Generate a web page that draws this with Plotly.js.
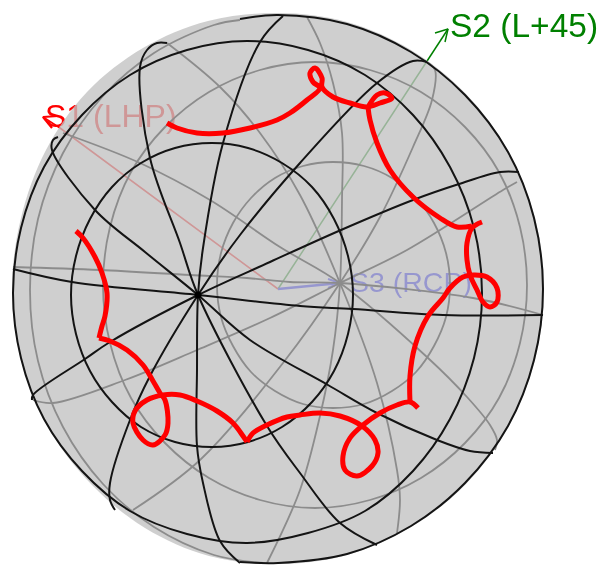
<!DOCTYPE html>
<html>
<head>
<meta charset="utf-8">
<script src="https://cdn.plot.ly/plotly-3.0.1.min.js"></script>
<style>html,body{margin:0;padding:0;background:#fff}#p{width:600px;height:566px;filter:blur(0.55px)}</style>
</head>
<body>
<div id="p"></div>
<script>
// Curves, as [x, y] in picture units
const sphereEdge = [[278,13],[347,22],[411,50],[466,94],[508,151],[535,218],[544,289],[535,360],[508,427],[466,484],[411,527],[347,555],[278,564],[209,556],[145,528],[91,484],[48,427],[21,360],[12,289],[21,218],[46,150],[87,92],[143,48],[208,21],[278,13]];

const axisS1 = [[278,289],[60,128],[43,117]];
const headS1 = [[58,116],[43,117],[52,128]];
const axisS2 = [[278,289],[448,29]];
const headS2 = [[435,33],[448,29],[445,42]];
const axisS3 = [[278,289],[340,283]];
const headS3 = [[328,279],[340,283],[328,288]];
const labels = ['S1 (LHP)','S2 (L+45)','S3 (RCP)'];
const labelAnchors = [[45,135],[450,45],[350,299]];
const labelSizes = [32,33.5,28.5];

const grayMid = [[527,285],[520,343],[499,398],[465,443],[421,478],[370,500],[315,508],[260,500],[209,478],[165,443],[131,398],[110,343],[103,285],[110,227],[131,172],[165,127],[209,92],[260,70],[315,62],[370,70],[421,92],[465,127],[499,172],[520,227],[527,285]];
const grayInner = [[450,285],[446,317],[434,346],[416,372],[392,391],[364,404],[333,408],[303,404],[275,391],[251,372],[233,346],[221,317],[217,285],[221,253],[233,223],[251,198],[275,178],[303,166],[333,162],[364,166],[392,178],[416,198],[434,223],[446,253],[450,285]];
const grayRim = [[263,563],[214,555],[154,527],[103,484],[63,427],[38,361],[30,290],[38,219],[63,153],[103,96],[154,53],[214,25],[240,20]];
const gray1 = [[167,43],[220,87],[260,133],[300,195],[340,283],[377,383],[397,470],[400,500],[397,533]];
const gray2 = [[63,133],[140,163],[210,200],[280,247],[340,283],[428,358],[467,397],[490,425],[497,440],[495,450]];
const gray3 = [[13,267],[100,270],[190,275],[247,278],[290,282],[340,283],[473,298],[543,315]];
const gray4 = [[33,400],[53,403],[125,380],[197,350],[270,318],[340,283],[407,250],[503,190],[517,182]];
const gray5 = [[307,17],[320,43],[333,83],[342,133],[342,200],[340,283],[333,350],[320,416],[300,490],[267,563]];
const gray6 = [[427,62],[435,70],[432,100],[413,147],[380,217],[340,283],[283,363],[200,460],[133,510]];
const grayCurves = [grayMid, grayInner, grayRim, gray1, gray2, gray3, gray4, gray5, gray6];

const blackEdge = [[240,19],[278,15],[347,24],[411,52],[465,95],[508,152],[534,218],[543,289],[534,360],[508,426],[465,483],[411,526],[347,554],[278,563],[240,562]];
const blackOuter = [[482,293],[474,358],[450,419],[413,471],[365,511],[308,533],[247,543],[187,534],[130,511],[82,471],[44,419],[21,358],[13,293],[21,228],[44,167],[82,115],[130,75],[187,50],[247,41],[308,50],[365,75],[413,115],[450,167],[474,228],[482,293]];
const blackInner = [[353,295],[348,334],[334,371],[312,402],[282,427],[248,442],[212,447],[175,442],[141,427],[112,402],[90,371],[76,334],[71,295],[76,256],[90,219],[112,187],[141,163],[175,148],[212,143],[248,148],[282,163],[312,187],[334,219],[348,256],[353,295]];
const spokeA = [[13,269],[72,282],[198,295],[300,306],[353,309],[443,315],[543,315]];
const spokeB = [[519,172],[500,172],[459,184],[413,200],[341,230],[270,262],[198,295],[110,342],[85,359],[33,395],[32,400]];
const spokeC = [[427,62],[413,61],[377,83],[300,163],[240,235],[198,295],[150,376],[130,420],[110,483],[110,500],[115,510]];
const spokeD = [[283,16],[260,42],[223,143],[203,248],[198,295],[197,370],[197,446],[203,483],[220,541],[240,563]];
const spokeE = [[167,43],[157,43],[147,50],[140,67],[150,158],[180,243],[198,295],[267,426],[300,473],[340,523],[377,545]];
const spokeF = [[58,137],[53,140],[52,150],[95,210],[145,252],[198,295],[250,340],[328,385],[377,413],[437,440],[470,451],[493,453]];
const blackCurves = [blackEdge, blackOuter, blackInner, spokeA, spokeB, spokeC, spokeD, spokeE, spokeF];
const pole = [[198,295]];

const red1 = [[76,231],[83,238],[95,257],[102,273],[107,293],[105,316],[102,326],[99,338]];
const red2 = [[99,338],[110,341],[127,350],[143,365],[153,381],[160,393],[165,400],[168,423],[165,435],[153,445],[143,440],[133,423],[135,411],[147,400],[163,395],[180,395],[197,401],[217,411],[233,423],[243,436],[247,442]];
const red3 = [[247,442],[253,433],[267,425],[287,417],[300,415],[320,413],[340,416],[362,426],[375,440],[378,453],[372,466],[357,476],[345,470],[343,456],[350,438],[363,425],[380,413],[397,405],[410,402],[418,408]];
const red4 = [[410,402],[410,376],[415,346],[428,316],[443,298],[450,288],[463,277],[473,275],[487,277],[497,288],[497,302],[490,307],[483,302],[477,290],[470,275],[467,260],[467,243],[472,228],[482,222]];
const red5 = [[472,226],[457,227],[440,218],[413,197],[390,170],[377,143],[370,120],[368,107]];
const red6 = [[368,107],[377,95],[385,93],[392,98],[380,103],[367,107],[350,103],[333,97],[322,87],[322,78],[315,68],[310,73],[313,82],[320,88],[307,100],[290,113],[277,120],[250,128],[223,133],[197,133],[177,128],[167,123]];
const redCurves = [red1, red2, red3, red4, red5, red6];

const xs = c => c.map(p => p[0]);
const ys = c => c.map(p => p[1]);
const curve = (c, color, width, shape) => ({
  type: 'scatter', mode: 'lines', x: xs(c), y: ys(c), hoverinfo: 'skip',
  line: {color: color, width: width, shape: shape || 'spline', smoothing: 1}
});
const RED = 'rgb(255,0,0)', GREEN = 'rgb(0,128,0)', BLUE = 'rgb(0,0,255)';
const labelColors = [RED, GREEN, BLUE];

const traces = [];
[[axisS1,headS1,RED,1.6,2.2],[axisS2,headS2,GREEN,1.5,1.5],[axisS3,headS3,BLUE,2.6,2]].forEach(t => {
  traces.push(curve(t[0], t[2], t[3], 'linear'));
  traces.push(curve(t[1], t[2], t[4], 'linear'));
});
labels.forEach((s, i) => traces.push({
  type: 'scatter', mode: 'text', x: [labelAnchors[i][0]], y: [labelAnchors[i][1]], text: [s],
  textposition: 'top right', hoverinfo: 'skip',
  textfont: {family: 'Liberation Sans, Arial, sans-serif', size: labelSizes[i], color: labelColors[i]}
}));
traces.push({
  type: 'scatter', mode: 'lines', x: xs(sphereEdge), y: ys(sphereEdge), fill: 'toself',
  fillcolor: 'rgba(193,193,193,0.78)', line: {width: 0, color: 'rgba(0,0,0,0)', shape: 'spline', smoothing: 1}, hoverinfo: 'skip'
});
grayCurves.forEach(c => traces.push(curve(c, 'rgb(140,140,140)', 1.8)));
blackCurves.forEach(c => traces.push(curve(c, 'rgb(20,20,20)', 2)));
traces.push({type: 'scatter', mode: 'markers', x: xs(pole), y: ys(pole), hoverinfo: 'skip', marker: {color: 'black', size: 7}});
redCurves.forEach(c => traces.push(curve(c, RED, 5)));

Plotly.newPlot('p', traces, {
  width: 600, height: 566, margin: {l: 0, r: 0, t: 0, b: 0},
  paper_bgcolor: 'white', plot_bgcolor: 'white', showlegend: false, hovermode: false,
  xaxis: {range: [0, 600], visible: false, fixedrange: true},
  yaxis: {range: [566, 0], visible: false, fixedrange: true}
}, {staticPlot: true, displayModeBar: false});
</script>
</body>
</html>
